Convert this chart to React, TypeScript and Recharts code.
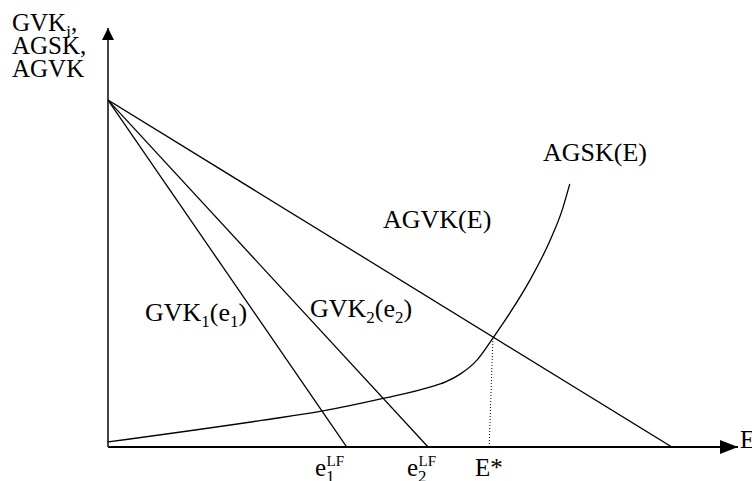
import React from 'react';
import { Line, LineChart, ReferenceDot, ReferenceLine, XAxis, YAxis } from 'recharts';

// straight cost lines, all starting at the same intercept on the vertical axis
const gvk1 = [{ x: 0, y: 82.8 }, { x: 37.9, y: 0 }];
const gvk2 = [{ x: 0, y: 82.8 }, { x: 50.8, y: 0 }];
const agvk = [{ x: 0, y: 82.8 }, { x: 89.5, y: 0 }];

// AGSK(E) curve
const agsk = [
  { x: 0, y: 1.2 },
  { x: 24.6, y: 6.4 },
  { x: 34.1, y: 8.6 },
  { x: 44.0, y: 11.7 },
  { x: 51.1, y: 14.3 },
  { x: 53.5, y: 15.5 },
  { x: 55.9, y: 17.4 },
  { x: 58.6, y: 20.8 },
  { x: 61.1, y: 26.0 },
  { x: 63.8, y: 32.0 },
  { x: 67.0, y: 39.9 },
  { x: 70.2, y: 49.4 },
  { x: 72.1, y: 56.6 },
  { x: 73.3, y: 62.8 },
];

// dotted drop from the intersection to E*
const eStar = [{ x: 61.1, y: 26.0 }, { x: 60.5, y: 0 }];

const FONT = 'Liberation Serif, Times New Roman, serif';

const ArrowRight = (props: any) => {
  const { cx, cy } = props;
  return <path d={`M${cx},${cy} L${cx - 18},${cy - 7} L${cx - 18},${cy + 7} Z`} fill="#000" />;
};

const ArrowUp = (props: any) => {
  const { cx, cy } = props;
  return <path d={`M${cx},${cy} L${cx - 6},${cy + 12} L${cx + 6},${cy + 12} Z`} fill="#000" />;
};

const Sub = ({ children }: { children: React.ReactNode }) => (
  <tspan style={{ fontSize: 17 }} dy={6}>{children}</tspan>
);

const App = () => {
  const txt = { style: { fontFamily: FONT, fontSize: 25 }, fill: '#000' };
  const big = { style: { fontFamily: FONT, fontSize: 26 }, fill: '#000' };
  return (
    <div style={{ position: 'absolute', left: 0, top: 0, width: 752, height: 481, background: '#fff' }}>
      <LineChart width={752} height={481} margin={{ top: 28, right: 14, bottom: 34, left: 108 }}>
        <XAxis dataKey="x" type="number" domain={[0, 100]} hide allowDataOverflow />
        <YAxis type="number" domain={[0, 100]} hide allowDataOverflow />
        <ReferenceLine y={0} stroke="#000" strokeWidth={1.8} />
        <ReferenceLine x={0} stroke="#444" strokeWidth={2} />
        <ReferenceDot x={100} y={0} r={0} shape={ArrowRight} ifOverflow="visible" />
        <ReferenceDot x={0} y={100} r={0} shape={ArrowUp} ifOverflow="visible" />
        <Line data={gvk1} dataKey="y" type="linear" stroke="#000" strokeWidth={1.3} dot={false} isAnimationActive={false} />
        <Line data={gvk2} dataKey="y" type="linear" stroke="#000" strokeWidth={1.3} dot={false} isAnimationActive={false} />
        <Line data={agvk} dataKey="y" type="linear" stroke="#000" strokeWidth={1.3} dot={false} isAnimationActive={false} />
        <Line data={agsk} dataKey="y" type="monotone" stroke="#000" strokeWidth={1.3} dot={false} isAnimationActive={false} />
        <Line data={eStar} dataKey="y" type="linear" stroke="#000" strokeWidth={1} strokeDasharray="1 2" dot={false} isAnimationActive={false} />
      </LineChart>
      <svg width={752} height={481} style={{ position: 'absolute', left: 0, top: 0, pointerEvents: 'none' }}>
        <text x={12} y={31} {...txt}>GVK<Sub>i</Sub><tspan dy={-6}>,</tspan></text>
        <text x={12} y={54} {...txt}>AGSK,</text>
        <text x={12} y={77} {...txt}>AGVK</text>
        <text x={543} y={161} {...big}>AGSK(E)</text>
        <text x={383} y={228} {...big}>AGVK(E)</text>
        <text x={145} y={321} {...big}>GVK<Sub>1</Sub><tspan dy={-6}>(e</tspan><Sub>1</Sub><tspan dy={-6}>)</tspan></text>
        <text x={310} y={317} {...big}>GVK<Sub>2</Sub><tspan dy={-6}>(e</tspan><Sub>2</Sub><tspan dy={-6}>)</tspan></text>
        <text x={315} y={476} {...txt}>e<Sub>1</Sub><tspan style={{ fontSize: 15 }} dx={-8} dy={-16}>LF</tspan></text>
        <text x={407} y={476} {...txt}>e<Sub>2</Sub><tspan style={{ fontSize: 15 }} dx={-8} dy={-16}>LF</tspan></text>
        <text x={475} y={476} {...txt}>E*</text>
        <text x={740} y={448} {...txt}>E</text>
      </svg>
    </div>
  );
};

export default App;
